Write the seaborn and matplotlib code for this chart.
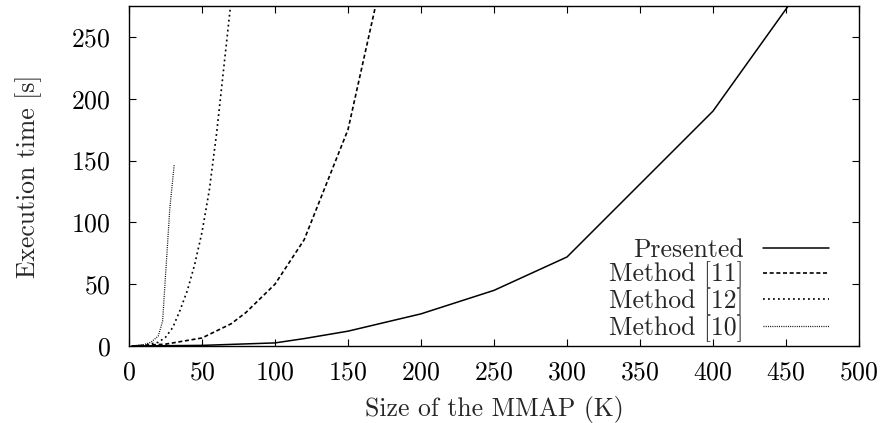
import matplotlib
matplotlib.use("Agg")
import matplotlib.pyplot as plt
import seaborn as sns
import pandas as pd

# values
presented_x = [2, 50, 100, 120, 150, 200, 250, 300, 400, 500]
presented_y = [0, 0.5, 2.5, 6, 12, 26, 45, 72, 190, 355]

m11_x = [2, 25, 50, 70, 80, 100, 120, 150, 200]
m11_y = [0, 1.5, 6.5, 18, 27, 50, 86, 175, 440]

m12_x = [2, 10, 20, 25, 30, 35, 40, 45, 50, 55, 60, 65, 70, 75]
m12_y = [0, 0.5, 3, 7, 15, 29, 45, 66, 92, 126, 172, 226, 280, 350]

m10_x = [2, 10, 15, 20, 23, 28, 31]
m10_y = [0, 1, 3, 8, 20, 112, 147]

labels = ["Presented", "Method [11]", "Method [12]", "Method [10]"]

sns.set_theme(style="ticks")
plt.rcParams["font.family"] = ["cmr10", "DejaVu Serif"]
plt.rcParams["axes.formatter.use_mathtext"] = True
plt.rcParams["lines.scale_dashes"] = False
plt.rcParams["axes.unicode_minus"] = False

fs = 18.5
fig = plt.figure(figsize=(8.85, 4.23), dpi=100)
ax = fig.add_axes([129 / 885, 1 - 346 / 423, 730 / 885, 340 / 423])

series = [
    (presented_x, presented_y, (None, None), 1.1),
    (m11_x, m11_y, (2.9, 1.9), 1.2),
    (m12_x, m12_y, (1.3, 2.3), 1.2),
    (m10_x, m10_y, (0.7, 0.9), 0.9),
]
for (xs, ys, dash, lw), lab in zip(series, labels):
    df = pd.DataFrame({"size": xs, "time": ys})
    sns.lineplot(data=df, x="size", y="time", ax=ax, color="black",
                 lw=lw, label=lab, estimator=None, sort=False)
    line = ax.get_lines()[-1]
    if dash[0] is not None:
        line.set_dashes(dash)

ax.set_xlim(0, 500)
ax.set_ylim(0, 275)
ax.set_xticks(range(0, 501, 50))
ax.set_yticks(range(0, 251, 50))
for s in ax.spines.values():
    s.set_visible(True)
    s.set_linewidth(1.0)
    s.set_color("black")
ax.tick_params(direction="in", length=5, width=0.8, top=True, right=True,
               labelsize=fs, colors="black")
ax.tick_params(axis="x", pad=10.5)
ax.tick_params(axis="y", pad=13)
ax.set_xlabel("Size of the MMAP (K)", fontsize=fs, labelpad=8.3)
ax.set_ylabel("Execution time [s]", fontsize=fs, labelpad=21)

ax.legend(loc="lower right", bbox_to_anchor=(0.959, 0.012), frameon=False,
          markerfirst=False, fontsize=fs, handlelength=2.57,
          handletextpad=0.75, labelspacing=0.0, borderpad=0,
          borderaxespad=0)

fig.savefig("out.png", dpi=100)
